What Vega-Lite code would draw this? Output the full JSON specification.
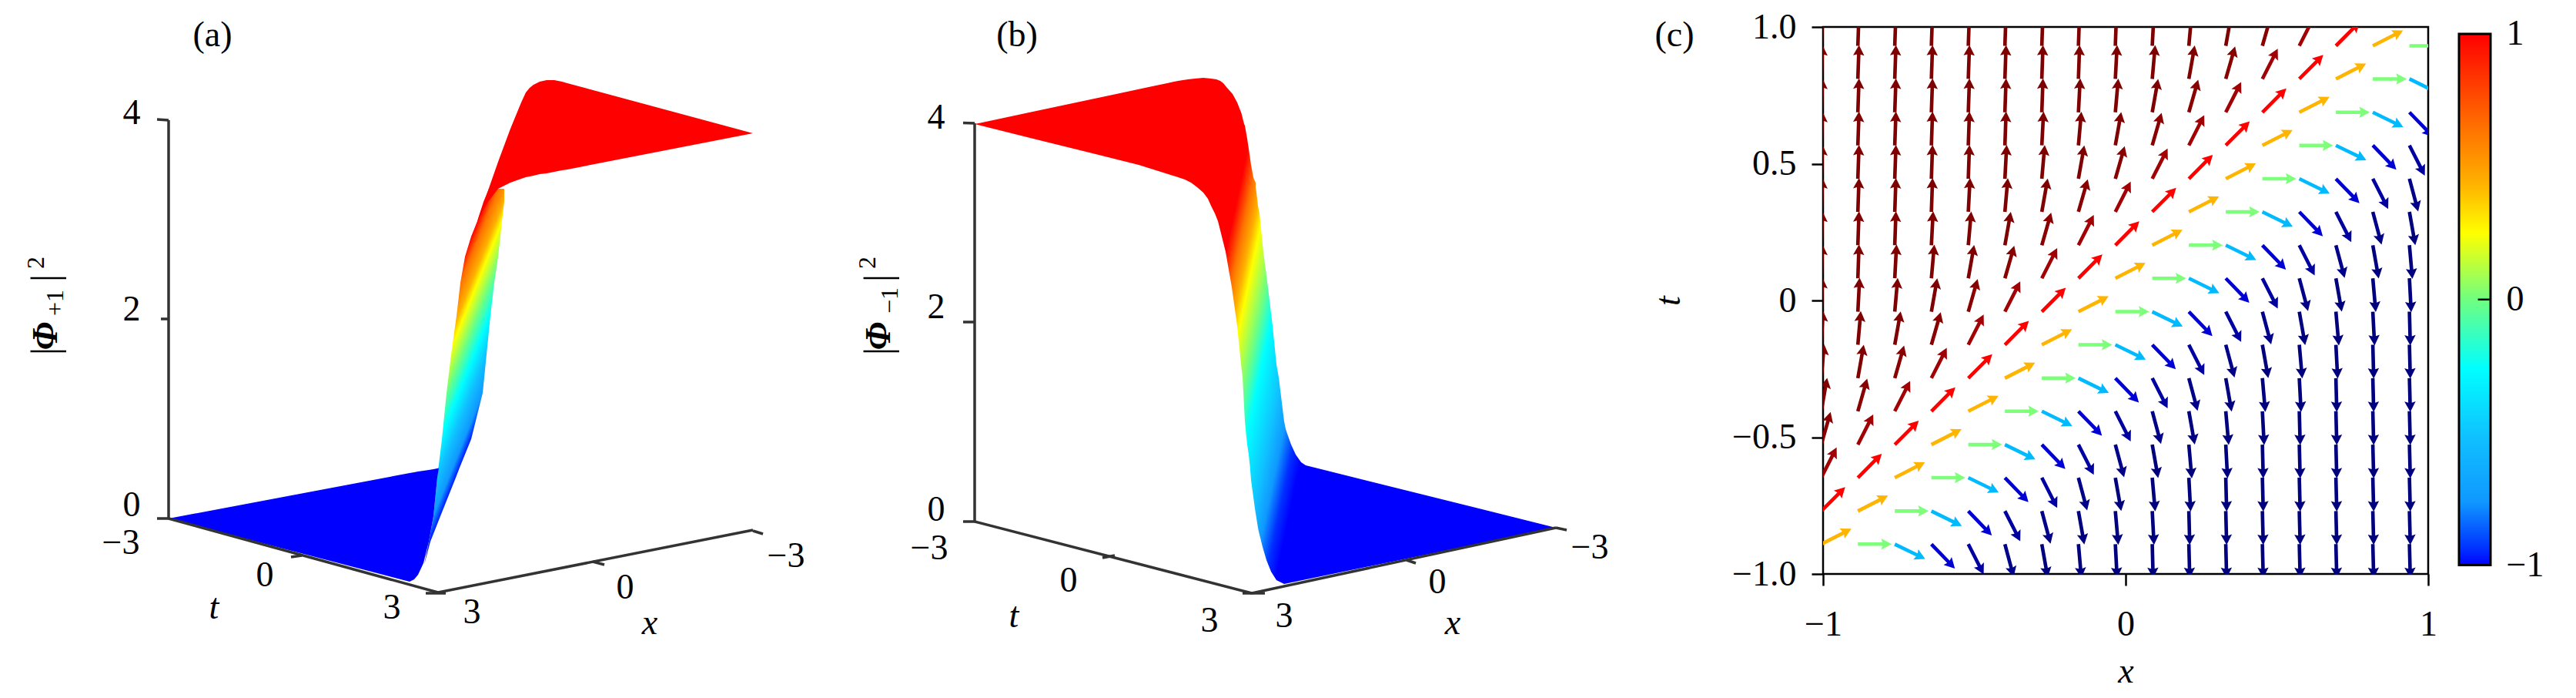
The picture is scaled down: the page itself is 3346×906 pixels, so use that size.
{
"$schema":"https://vega.github.io/schema/vega-lite/v6.json",
"background":"white",
"padding":{"left":0,"top":10,"right":0,"bottom":0},
"bounds":"flush",
"spacing":40,
"resolve":{"scale":{"color":"independent"}},
"config":{"view":{"stroke":null},"text":{"font":"Liberation Serif","fontSize":46,"color":"#000"}},
"datasets":{
"classes":[{"k":-8,"a":2,"s":1},{"k":-7,"a":3,"s":1},{"k":-6,"a":5,"s":1},{"k":-5,"a":10,"s":1},{"k":-4,"a":16,"s":0.98},{"k":-3,"a":27,"s":0.93},{"k":-2,"a":45,"s":0.75},{"k":-1,"a":63,"s":0.45},{"k":0,"a":90,"s":0},{"k":1,"a":116,"s":-0.45},{"k":2,"a":136,"s":-0.83},{"k":3,"a":153,"s":-0.93},{"k":4,"a":165,"s":-0.98},{"k":5,"a":170,"s":-1},{"k":6,"a":175,"s":-1},{"k":7,"a":177,"s":-1},{"k":8,"a":178.5,"s":-1}],
"arrows":[
{"x":-1.006,"t":-0.891,"k":-1},{"x":-0.885,"t":-0.891,"k":0},{"x":-0.763,"t":-0.891,"k":1},{"x":-0.642,"t":-0.891,"k":2},{"x":-0.52,"t":-0.891,"k":3},{"x":-0.399,"t":-0.891,"k":4},{"x":-0.277,"t":-0.891,"k":5},{"x":-0.156,"t":-0.891,"k":6},{"x":-0.034,"t":-0.891,"k":7},{"x":0.088,"t":-0.891,"k":8},{"x":0.209,"t":-0.891,"k":8},{"x":0.331,"t":-0.891,"k":8},{"x":0.452,"t":-0.891,"k":8},{"x":0.574,"t":-0.891,"k":8},{"x":0.695,"t":-0.891,"k":8},{"x":0.817,"t":-0.891,"k":8},{"x":0.938,"t":-0.891,"k":8},
{"x":-1.006,"t":-0.77,"k":-2},{"x":-0.885,"t":-0.77,"k":-1},{"x":-0.763,"t":-0.77,"k":0},{"x":-0.642,"t":-0.77,"k":1},{"x":-0.52,"t":-0.77,"k":2},{"x":-0.399,"t":-0.77,"k":3},{"x":-0.277,"t":-0.77,"k":4},{"x":-0.156,"t":-0.77,"k":5},{"x":-0.034,"t":-0.77,"k":6},{"x":0.088,"t":-0.77,"k":7},{"x":0.209,"t":-0.77,"k":8},{"x":0.331,"t":-0.77,"k":8},{"x":0.452,"t":-0.77,"k":8},{"x":0.574,"t":-0.77,"k":8},{"x":0.695,"t":-0.77,"k":8},{"x":0.817,"t":-0.77,"k":8},{"x":0.938,"t":-0.77,"k":8},
{"x":-1.006,"t":-0.648,"k":-3},{"x":-0.885,"t":-0.648,"k":-2},{"x":-0.763,"t":-0.648,"k":-1},{"x":-0.642,"t":-0.648,"k":0},{"x":-0.52,"t":-0.648,"k":1},{"x":-0.399,"t":-0.648,"k":2},{"x":-0.277,"t":-0.648,"k":3},{"x":-0.156,"t":-0.648,"k":4},{"x":-0.034,"t":-0.648,"k":5},{"x":0.088,"t":-0.648,"k":6},{"x":0.209,"t":-0.648,"k":7},{"x":0.331,"t":-0.648,"k":8},{"x":0.452,"t":-0.648,"k":8},{"x":0.574,"t":-0.648,"k":8},{"x":0.695,"t":-0.648,"k":8},{"x":0.817,"t":-0.648,"k":8},{"x":0.938,"t":-0.648,"k":8},
{"x":-1.006,"t":-0.527,"k":-4},{"x":-0.885,"t":-0.527,"k":-3},{"x":-0.763,"t":-0.527,"k":-2},{"x":-0.642,"t":-0.527,"k":-1},{"x":-0.52,"t":-0.527,"k":0},{"x":-0.399,"t":-0.527,"k":1},{"x":-0.277,"t":-0.527,"k":2},{"x":-0.156,"t":-0.527,"k":3},{"x":-0.034,"t":-0.527,"k":4},{"x":0.088,"t":-0.527,"k":5},{"x":0.209,"t":-0.527,"k":6},{"x":0.331,"t":-0.527,"k":7},{"x":0.452,"t":-0.527,"k":8},{"x":0.574,"t":-0.527,"k":8},{"x":0.695,"t":-0.527,"k":8},{"x":0.817,"t":-0.527,"k":8},{"x":0.938,"t":-0.527,"k":8},
{"x":-1.006,"t":-0.405,"k":-5},{"x":-0.885,"t":-0.405,"k":-4},{"x":-0.763,"t":-0.405,"k":-3},{"x":-0.642,"t":-0.405,"k":-2},{"x":-0.52,"t":-0.405,"k":-1},{"x":-0.399,"t":-0.405,"k":0},{"x":-0.277,"t":-0.405,"k":1},{"x":-0.156,"t":-0.405,"k":2},{"x":-0.034,"t":-0.405,"k":3},{"x":0.088,"t":-0.405,"k":4},{"x":0.209,"t":-0.405,"k":5},{"x":0.331,"t":-0.405,"k":6},{"x":0.452,"t":-0.405,"k":7},{"x":0.574,"t":-0.405,"k":8},{"x":0.695,"t":-0.405,"k":8},{"x":0.817,"t":-0.405,"k":8},{"x":0.938,"t":-0.405,"k":8},
{"x":-1.006,"t":-0.284,"k":-6},{"x":-0.885,"t":-0.284,"k":-5},{"x":-0.763,"t":-0.284,"k":-4},{"x":-0.642,"t":-0.284,"k":-3},{"x":-0.52,"t":-0.284,"k":-2},{"x":-0.399,"t":-0.284,"k":-1},{"x":-0.277,"t":-0.284,"k":0},{"x":-0.156,"t":-0.284,"k":1},{"x":-0.034,"t":-0.284,"k":2},{"x":0.088,"t":-0.284,"k":3},{"x":0.209,"t":-0.284,"k":4},{"x":0.331,"t":-0.284,"k":5},{"x":0.452,"t":-0.284,"k":6},{"x":0.574,"t":-0.284,"k":7},{"x":0.695,"t":-0.284,"k":8},{"x":0.817,"t":-0.284,"k":8},{"x":0.938,"t":-0.284,"k":8},
{"x":-1.006,"t":-0.162,"k":-7},{"x":-0.885,"t":-0.162,"k":-6},{"x":-0.763,"t":-0.162,"k":-5},{"x":-0.642,"t":-0.162,"k":-4},{"x":-0.52,"t":-0.162,"k":-3},{"x":-0.399,"t":-0.162,"k":-2},{"x":-0.277,"t":-0.162,"k":-1},{"x":-0.156,"t":-0.162,"k":0},{"x":-0.034,"t":-0.162,"k":1},{"x":0.088,"t":-0.162,"k":2},{"x":0.209,"t":-0.162,"k":3},{"x":0.331,"t":-0.162,"k":4},{"x":0.452,"t":-0.162,"k":5},{"x":0.574,"t":-0.162,"k":6},{"x":0.695,"t":-0.162,"k":7},{"x":0.817,"t":-0.162,"k":8},{"x":0.938,"t":-0.162,"k":8},
{"x":-1.006,"t":-0.041,"k":-8},{"x":-0.885,"t":-0.041,"k":-7},{"x":-0.763,"t":-0.041,"k":-6},{"x":-0.642,"t":-0.041,"k":-5},{"x":-0.52,"t":-0.041,"k":-4},{"x":-0.399,"t":-0.041,"k":-3},{"x":-0.277,"t":-0.041,"k":-2},{"x":-0.156,"t":-0.041,"k":-1},{"x":-0.034,"t":-0.041,"k":0},{"x":0.088,"t":-0.041,"k":1},{"x":0.209,"t":-0.041,"k":2},{"x":0.331,"t":-0.041,"k":3},{"x":0.452,"t":-0.041,"k":4},{"x":0.574,"t":-0.041,"k":5},{"x":0.695,"t":-0.041,"k":6},{"x":0.817,"t":-0.041,"k":7},{"x":0.938,"t":-0.041,"k":8},
{"x":-1.006,"t":0.081,"k":-8},{"x":-0.885,"t":0.081,"k":-8},{"x":-0.763,"t":0.081,"k":-7},{"x":-0.642,"t":0.081,"k":-6},{"x":-0.52,"t":0.081,"k":-5},{"x":-0.399,"t":0.081,"k":-4},{"x":-0.277,"t":0.081,"k":-3},{"x":-0.156,"t":0.081,"k":-2},{"x":-0.034,"t":0.081,"k":-1},{"x":0.088,"t":0.081,"k":0},{"x":0.209,"t":0.081,"k":1},{"x":0.331,"t":0.081,"k":2},{"x":0.452,"t":0.081,"k":3},{"x":0.574,"t":0.081,"k":4},{"x":0.695,"t":0.081,"k":5},{"x":0.817,"t":0.081,"k":6},{"x":0.938,"t":0.081,"k":7},
{"x":-1.006,"t":0.202,"k":-8},{"x":-0.885,"t":0.202,"k":-8},{"x":-0.763,"t":0.202,"k":-8},{"x":-0.642,"t":0.202,"k":-7},{"x":-0.52,"t":0.202,"k":-6},{"x":-0.399,"t":0.202,"k":-5},{"x":-0.277,"t":0.202,"k":-4},{"x":-0.156,"t":0.202,"k":-3},{"x":-0.034,"t":0.202,"k":-2},{"x":0.088,"t":0.202,"k":-1},{"x":0.209,"t":0.202,"k":0},{"x":0.331,"t":0.202,"k":1},{"x":0.452,"t":0.202,"k":2},{"x":0.574,"t":0.202,"k":3},{"x":0.695,"t":0.202,"k":4},{"x":0.817,"t":0.202,"k":5},{"x":0.938,"t":0.202,"k":6},
{"x":-1.006,"t":0.324,"k":-8},{"x":-0.885,"t":0.324,"k":-8},{"x":-0.763,"t":0.324,"k":-8},{"x":-0.642,"t":0.324,"k":-8},{"x":-0.52,"t":0.324,"k":-7},{"x":-0.399,"t":0.324,"k":-6},{"x":-0.277,"t":0.324,"k":-5},{"x":-0.156,"t":0.324,"k":-4},{"x":-0.034,"t":0.324,"k":-3},{"x":0.088,"t":0.324,"k":-2},{"x":0.209,"t":0.324,"k":-1},{"x":0.331,"t":0.324,"k":0},{"x":0.452,"t":0.324,"k":1},{"x":0.574,"t":0.324,"k":2},{"x":0.695,"t":0.324,"k":3},{"x":0.817,"t":0.324,"k":4},{"x":0.938,"t":0.324,"k":5},
{"x":-1.006,"t":0.445,"k":-8},{"x":-0.885,"t":0.445,"k":-8},{"x":-0.763,"t":0.445,"k":-8},{"x":-0.642,"t":0.445,"k":-8},{"x":-0.52,"t":0.445,"k":-8},{"x":-0.399,"t":0.445,"k":-7},{"x":-0.277,"t":0.445,"k":-6},{"x":-0.156,"t":0.445,"k":-5},{"x":-0.034,"t":0.445,"k":-4},{"x":0.088,"t":0.445,"k":-3},{"x":0.209,"t":0.445,"k":-2},{"x":0.331,"t":0.445,"k":-1},{"x":0.452,"t":0.445,"k":0},{"x":0.574,"t":0.445,"k":1},{"x":0.695,"t":0.445,"k":2},{"x":0.817,"t":0.445,"k":3},{"x":0.938,"t":0.445,"k":4},
{"x":-1.006,"t":0.567,"k":-8},{"x":-0.885,"t":0.567,"k":-8},{"x":-0.763,"t":0.567,"k":-8},{"x":-0.642,"t":0.567,"k":-8},{"x":-0.52,"t":0.567,"k":-8},{"x":-0.399,"t":0.567,"k":-8},{"x":-0.277,"t":0.567,"k":-7},{"x":-0.156,"t":0.567,"k":-6},{"x":-0.034,"t":0.567,"k":-5},{"x":0.088,"t":0.567,"k":-4},{"x":0.209,"t":0.567,"k":-3},{"x":0.331,"t":0.567,"k":-2},{"x":0.452,"t":0.567,"k":-1},{"x":0.574,"t":0.567,"k":0},{"x":0.695,"t":0.567,"k":1},{"x":0.817,"t":0.567,"k":2},{"x":0.938,"t":0.567,"k":3},
{"x":-1.006,"t":0.688,"k":-8},{"x":-0.885,"t":0.688,"k":-8},{"x":-0.763,"t":0.688,"k":-8},{"x":-0.642,"t":0.688,"k":-8},{"x":-0.52,"t":0.688,"k":-8},{"x":-0.399,"t":0.688,"k":-8},{"x":-0.277,"t":0.688,"k":-8},{"x":-0.156,"t":0.688,"k":-7},{"x":-0.034,"t":0.688,"k":-6},{"x":0.088,"t":0.688,"k":-5},{"x":0.209,"t":0.688,"k":-4},{"x":0.331,"t":0.688,"k":-3},{"x":0.452,"t":0.688,"k":-2},{"x":0.574,"t":0.688,"k":-1},{"x":0.695,"t":0.688,"k":0},{"x":0.817,"t":0.688,"k":1},{"x":0.938,"t":0.688,"k":2},
{"x":-1.006,"t":0.81,"k":-8},{"x":-0.885,"t":0.81,"k":-8},{"x":-0.763,"t":0.81,"k":-8},{"x":-0.642,"t":0.81,"k":-8},{"x":-0.52,"t":0.81,"k":-8},{"x":-0.399,"t":0.81,"k":-8},{"x":-0.277,"t":0.81,"k":-8},{"x":-0.156,"t":0.81,"k":-8},{"x":-0.034,"t":0.81,"k":-7},{"x":0.088,"t":0.81,"k":-6},{"x":0.209,"t":0.81,"k":-5},{"x":0.331,"t":0.81,"k":-4},{"x":0.452,"t":0.81,"k":-3},{"x":0.574,"t":0.81,"k":-2},{"x":0.695,"t":0.81,"k":-1},{"x":0.817,"t":0.81,"k":0},{"x":0.938,"t":0.81,"k":1},
{"x":-1.006,"t":0.931,"k":-8},{"x":-0.885,"t":0.931,"k":-8},{"x":-0.763,"t":0.931,"k":-8},{"x":-0.642,"t":0.931,"k":-8},{"x":-0.52,"t":0.931,"k":-8},{"x":-0.399,"t":0.931,"k":-8},{"x":-0.277,"t":0.931,"k":-8},{"x":-0.156,"t":0.931,"k":-8},{"x":-0.034,"t":0.931,"k":-8},{"x":0.088,"t":0.931,"k":-7},{"x":0.209,"t":0.931,"k":-6},{"x":0.331,"t":0.931,"k":-5},{"x":0.452,"t":0.931,"k":-4},{"x":0.574,"t":0.931,"k":-3},{"x":0.695,"t":0.931,"k":-2},{"x":0.817,"t":0.931,"k":-1},{"x":0.938,"t":0.931,"k":0}
]
},
"hconcat":[
{
"width":1030,"height":871,
"encoding":{
"x":{"field":"u","type":"quantitative","scale":{"domain":[0,1030],"nice":false,"zero":false},"axis":null},
"y":{"field":"v","type":"quantitative","scale":{"domain":[906,35],"nice":false,"zero":false},"axis":null}
},
"layer":[
{"data":{"values":[{"v":733,"l":551,"r":551},{"v":703,"l":557,"r":559},{"v":670,"l":563,"r":572},{"v":650,"l":565,"r":580},{"v":620,"l":568,"r":592},{"v":607,"l":569.5,"r":597},{"v":570,"l":574,"r":612},{"v":510,"l":580,"r":627},{"v":460,"l":586,"r":632},{"v":410,"l":593,"r":637},{"v":367,"l":598,"r":642},{"v":333,"l":604,"r":647},{"v":307,"l":612,"r":650},{"v":287,"l":620,"r":652},{"v":262,"l":628,"r":655},{"v":250,"l":633,"r":655},{"v":245,"l":635,"r":655}]},
"mark":{"type":"area","orient":"horizontal","fill":{"gradient":"linear","x1":0,"y1":1,"x2":-0.233,"y2":0.562,"stops":[{"offset":0,"color":"#0000ff"},{"offset":0.054,"color":"#0030ff"},{"offset":0.121,"color":"#1098ff"},{"offset":0.259,"color":"#10c0ff"},{"offset":0.405,"color":"#00ffff"},{"offset":0.552,"color":"#70ff80"},{"offset":0.707,"color":"#ffff00"},{"offset":0.779,"color":"#ffb000"},{"offset":0.907,"color":"#ff7000"},{"offset":1,"color":"#ff0000"}]}},
"encoding":{"x":{"field":"l","type":"quantitative","scale":{"domain":[0,1030],"nice":false,"zero":false},"axis":null},"x2":{"field":"r"}}},
{"data":{"values":[{"u":620,"a":287,"b":287},{"u":633,"a":250,"b":263},{"u":647,"a":210,"b":245},{"u":663,"a":167,"b":237},{"u":677,"a":133,"b":232},{"u":683,"a":120,"b":230},{"u":688,"a":114,"b":229},{"u":693,"a":110,"b":228},{"u":701,"a":106,"b":226},{"u":710,"a":104,"b":225},{"u":720,"a":104,"b":223},{"u":730,"a":106,"b":221},{"u":737,"a":108,"b":220},{"u":978,"a":173,"b":173}]},
"mark":{"type":"area","orient":"vertical","fill":"#ff0000"},
"encoding":{"y":{"field":"a","type":"quantitative","scale":{"domain":[906,35],"nice":false,"zero":false},"axis":null},"y2":{"field":"b"}}},
{"data":{"values":[{"u":219,"a":673,"b":673},{"u":532,"a":614,"b":755},{"u":538,"a":613,"b":752},{"u":543,"a":612,"b":746},{"u":550,"a":611,"b":731},{"u":557,"a":610,"b":703},{"u":563,"a":609,"b":670},{"u":568,"a":608,"b":620},{"u":570,"a":607.5,"b":607.5}]},
"mark":{"type":"area","orient":"vertical","fill":"#0000ff"},
"encoding":{"y":{"field":"a","type":"quantitative","scale":{"domain":[906,35],"nice":false,"zero":false},"axis":null},"y2":{"field":"b"}}},
{"data":{"values":[{"u":219,"v":156,"p":219,"q":673},{"u":204,"v":155,"p":219,"q":156},{"u":209,"v":414,"p":219,"q":414},{"u":204,"v":673,"p":219,"q":673},{"u":219,"v":673,"p":569,"q":769},{"u":553,"v":770,"p":579,"q":770},{"u":569,"v":769,"p":978,"q":688},{"u":978,"v":689,"p":991,"q":693},{"u":378,"v":723,"p":392,"q":721},{"u":770,"v":729,"p":785,"q":733}]},
"mark":{"type":"rule","stroke":"#333333","strokeWidth":3.5},
"encoding":{"x2":{"field":"p"},"y2":{"field":"q"}}},
{"data":{"values":[{"u":171,"v":147,"s":"4"},{"u":171,"v":402,"s":"2"},{"u":171,"v":656,"s":"0"},{"u":157,"v":705,"s":"−3"},{"u":344,"v":747,"s":"0"},{"u":509,"v":789,"s":"3"},{"u":613,"v":795,"s":"3"},{"u":812,"v":763,"s":"0"},{"u":1021,"v":722,"s":"−3"},{"u":276,"v":46,"s":"(a)"}]},
"mark":{"type":"text","baseline":"middle","align":"center"},"encoding":{"text":{"field":"s"}}},
{"data":{"values":[{"u":278,"v":789,"s":"t"},{"u":844,"v":809,"s":"x"}]},
"mark":{"type":"text","baseline":"middle","align":"center","fontStyle":"italic"},"encoding":{"text":{"field":"s"}}},
{"data":{"values":[{"u":60,"v":456,"s":"|"},{"u":60,"v":361,"s":"|"}]},
"mark":{"type":"text","baseline":"middle","align":"center","angle":270,"fontSize":50},"encoding":{"text":{"field":"s"}}},
{"data":{"values":[{"u":60,"v":436,"s":"Φ"}]},
"mark":{"type":"text","baseline":"middle","align":"center","angle":270,"fontStyle":"italic","fontWeight":"bold"},"encoding":{"text":{"field":"s"}}},
{"data":{"values":[{"u":72,"v":393,"s":"+1"},{"u":47,"v":341,"s":"2"}]},
"mark":{"type":"text","baseline":"middle","align":"center","angle":270,"fontSize":32},"encoding":{"text":{"field":"s"}}}
]
},
{
"width":1258,"height":871,
"encoding":{
"x":{"field":"u","type":"quantitative","scale":{"domain":[1070,2328],"nice":false,"zero":false},"axis":null},
"y":{"field":"v","type":"quantitative","scale":{"domain":[906,35],"nice":false,"zero":false},"axis":null}
},
"layer":[
{"data":{"values":[{"v":101,"l":1563,"r":1563},{"v":102,"l":1552,"r":1573},{"v":103,"l":1543,"r":1580},{"v":105,"l":1530,"r":1585},{"v":108,"l":1516,"r":1589},{"v":113,"l":1492,"r":1593},{"v":122,"l":1450,"r":1601},{"v":133,"l":1398,"r":1607},{"v":147,"l":1332,"r":1612.5},{"v":161,"l":1266,"r":1616},{"v":163,"l":1274,"r":1617},{"v":180,"l":1342,"r":1620},{"v":200,"l":1423,"r":1623},{"v":214,"l":1479,"r":1625},{"v":230,"l":1530,"r":1628},{"v":233,"l":1539,"r":1629},{"v":237,"l":1547,"r":1631},{"v":243,"l":1555,"r":1631},{"v":250,"l":1563,"r":1632},{"v":258,"l":1569,"r":1633},{"v":267,"l":1573,"r":1634},{"v":277,"l":1578,"r":1636},{"v":287,"l":1582,"r":1637},{"v":327,"l":1592,"r":1641},{"v":373,"l":1600,"r":1647},{"v":423,"l":1607,"r":1653},{"v":473,"l":1612,"r":1658},{"v":490,"l":1614,"r":1661},{"v":547,"l":1617,"r":1668},{"v":557,"l":1618,"r":1670},{"v":563,"l":1618.5,"r":1672},{"v":577,"l":1620,"r":1677},{"v":590,"l":1622,"r":1683},{"v":600,"l":1623,"r":1690},{"v":604,"l":1623.5,"r":1696},{"v":623,"l":1625,"r":1772},{"v":660,"l":1630,"r":1921},{"v":685,"l":1634,"r":2021},{"v":690,"l":1635,"r":1997},{"v":710,"l":1640,"r":1900},{"v":727,"l":1645,"r":1818},{"v":742,"l":1651,"r":1745},{"v":753,"l":1658,"r":1692},{"v":758,"l":1668,"r":1668}]},
"mark":{"type":"area","orient":"horizontal","fill":{"gradient":"linear","x1":0.5444,"y1":0.8463,"x2":0.3471,"y2":0.8102,"stops":[{"offset":0,"color":"#0000ff"},{"offset":0.09,"color":"#0030ff"},{"offset":0.194,"color":"#1098ff"},{"offset":0.303,"color":"#10c0ff"},{"offset":0.497,"color":"#00ffff"},{"offset":0.606,"color":"#70ff80"},{"offset":0.755,"color":"#ffff00"},{"offset":0.819,"color":"#ffb000"},{"offset":0.903,"color":"#ff7000"},{"offset":1,"color":"#ff0000"}]}},
"encoding":{"x":{"field":"l","type":"quantitative","scale":{"domain":[1070,2328],"nice":false,"zero":false},"axis":null},"x2":{"field":"r"}}},
{"data":{"values":[{"u":1266,"v":160,"p":1266,"q":677},{"u":1251,"v":159.5,"p":1266,"q":160},{"u":1251,"v":418,"p":1266,"q":418},{"u":1251,"v":677,"p":1266,"q":677},{"u":1266,"v":677,"p":1626,"q":770},{"u":1614,"v":770,"p":1643,"q":770},{"u":1626,"v":770,"p":2021,"q":685},{"u":2021,"v":685,"p":2035,"q":688},{"u":1432,"v":724,"p":1448,"q":721},{"u":1827,"v":727,"p":1839,"q":731}]},
"mark":{"type":"rule","stroke":"#333333","strokeWidth":3.5},
"encoding":{"x2":{"field":"p"},"y2":{"field":"q"}}},
{"data":{"values":[{"u":1216,"v":153,"s":"4"},{"u":1216,"v":399,"s":"2"},{"u":1216,"v":662,"s":"0"},{"u":1207,"v":712,"s":"−3"},{"u":1388,"v":754,"s":"0"},{"u":1571,"v":806,"s":"3"},{"u":1668,"v":800,"s":"3"},{"u":1867,"v":756,"s":"0"},{"u":2065,"v":711,"s":"−3"},{"u":1321,"v":46,"s":"(b)"},{"u":2175,"v":46,"s":"(c)"}]},
"mark":{"type":"text","baseline":"middle","align":"center"},"encoding":{"text":{"field":"s"}}},
{"data":{"values":[{"u":1317,"v":800,"s":"t"},{"u":1887,"v":809,"s":"x"}]},
"mark":{"type":"text","baseline":"middle","align":"center","fontStyle":"italic"},"encoding":{"text":{"field":"s"}}},
{"data":{"values":[{"u":1142,"v":456,"s":"|"},{"u":1142,"v":361,"s":"|"}]},
"mark":{"type":"text","baseline":"middle","align":"center","angle":270,"fontSize":50},"encoding":{"text":{"field":"s"}}},
{"data":{"values":[{"u":1142,"v":436,"s":"Φ"}]},
"mark":{"type":"text","baseline":"middle","align":"center","angle":270,"fontStyle":"italic","fontWeight":"bold"},"encoding":{"text":{"field":"s"}}},
{"data":{"values":[{"u":1156,"v":390,"s":"−1"},{"u":1127,"v":341,"s":"2"}]},
"mark":{"type":"text","baseline":"middle","align":"center","angle":270,"fontSize":32},"encoding":{"text":{"field":"s"}}}
]
},
{
"width":786,"height":710,
"view":{"stroke":"#000000","strokeWidth":2.5},
"data":{"name":"arrows"},
"transform":[{"lookup":"k","from":{"data":{"name":"classes"},"key":"k","fields":["a","s"]}}],
"mark":{"type":"point","filled":true,"clip":true,"opacity":1,"size":1936,"strokeWidth":0,"shape":"M-.105,0L-.105,-1.45L-.33,-1.38L0,-2L.33,-1.38L.105,-1.45L.105,0Z"},
"encoding":{
"x":{"field":"x","type":"quantitative","scale":{"domain":[-1,1],"nice":false,"zero":false},
"axis":{"values":[-1,0,1],"labelExpr":"format(datum.value,'d')","labelFlush":false,"grid":false,"domain":false,"tickColor":"#000","tickWidth":2.5,"tickSize":15,"labelFont":"Liberation Serif","labelFontSize":46,"labelColor":"#000","labelPadding":28,"title":"x","titleFont":"Liberation Serif","titleFontStyle":"italic","titleFontWeight":"normal","titleFontSize":46,"titleColor":"#000","titlePadding":16}},
"y":{"field":"t","type":"quantitative","scale":{"domain":[-1,1],"nice":false,"zero":false},
"axis":{"values":[-1,-0.5,0,0.5,1],"labelExpr":"datum.value==0?'0':format(datum.value,'.1f')","labelFlush":false,"grid":false,"domain":false,"tickColor":"#000","tickWidth":2.5,"tickSize":15,"labelFont":"Liberation Serif","labelFontSize":46,"labelColor":"#000","labelPadding":20,"title":"t","titleFont":"Liberation Serif","titleFontStyle":"italic","titleFontWeight":"normal","titleFontSize":46,"titleColor":"#000","titlePadding":58}},
"angle":{"field":"a","type":"quantitative","scale":null},
"color":{"field":"s","type":"quantitative","legend":null,"scale":{"domain":[-1,-0.75,-0.25,0,0.25,0.75,1],"range":["#00007f","#0000ff","#00ffff","#7dff7a","#ffff00","#ff0000","#7f0000"]}}
}
},
{
"width":41,"height":710,
"layer":[
{"data":{"values":[{"p":0,"q":1,"lo":-1,"hi":1}]},
"mark":{"type":"rect","stroke":"#000","strokeWidth":3,"fill":{"gradient":"linear","x1":0,"y1":1,"x2":0,"y2":0,"stops":[{"offset":0,"color":"#0000ff"},{"offset":0.03,"color":"#0030ff"},{"offset":0.12,"color":"#1098ff"},{"offset":0.24,"color":"#10c0ff"},{"offset":0.37,"color":"#00ffff"},{"offset":0.5,"color":"#70ff80"},{"offset":0.625,"color":"#ffff00"},{"offset":0.72,"color":"#ffb000"},{"offset":0.825,"color":"#ff7000"},{"offset":1,"color":"#ff0000"}]}},
"encoding":{
"x":{"field":"p","type":"quantitative","scale":{"domain":[0,1],"nice":false,"zero":false},"axis":null},"x2":{"field":"q"},
"y":{"field":"lo","type":"quantitative","scale":{"domain":[-1.033,1.026],"nice":false,"zero":false},
"axis":{"orient":"right","values":[-1,0,1],"labelExpr":"format(datum.value,'d')","labelFlush":false,"grid":false,"domain":false,"ticks":false,"title":null,"labelFont":"Liberation Serif","labelFontSize":46,"labelColor":"#000","labelPadding":20}},"y2":{"field":"hi"}}},
{"data":{"values":[{"p":0.6,"q":1,"lo":0}]},
"mark":{"type":"rule","stroke":"#000","strokeWidth":2.5},
"encoding":{
"x":{"field":"p","type":"quantitative","scale":{"domain":[0,1],"nice":false,"zero":false},"axis":null},"x2":{"field":"q"},
"y":{"field":"lo","type":"quantitative"}}}
]
}
]
}
